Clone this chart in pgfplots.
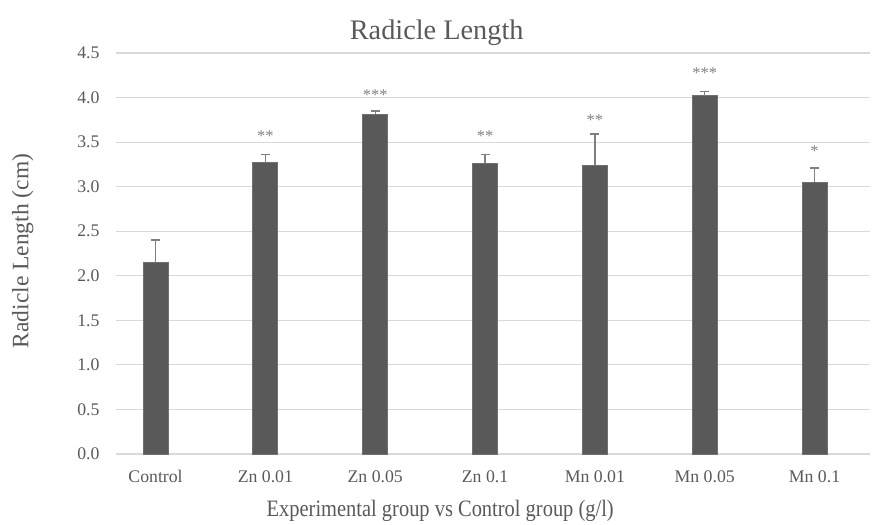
\documentclass[border=0pt]{standalone}
\usepackage{fontspec}
\setmainfont{Liberation Serif}
\newfontfamily\xlabfont[FakeStretch=0.87]{Liberation Serif}
\usepackage{pgfplots}
\usepackage{pgfplotstable}
\pgfplotsset{compat=1.18}
\definecolor{barc}{HTML}{595959}
\definecolor{errc}{HTML}{7F7F7F}
\definecolor{gridc}{HTML}{D9D9D9}
\definecolor{txtc}{HTML}{595959}

\pgfplotstableread{
x y err
0 2.15 0.25
1 3.27 0.09
2 3.81 0.04
3 3.26 0.10
4 3.24 0.35
5 4.02 0.05
6 3.05 0.16
}\bars

\pgfplotstableread{
x y label
1 3.59 {**}
2 4.05 {***}
3 3.59 {**}
4 3.78 {**}
5 4.30 {***}
6 3.43 {*}
}\stars

\begin{document}
\begin{tikzpicture}
\begin{axis}[
  at={(116bp,71bp)}, anchor=south west,
  scale only axis,
  width=754bp, height=401bp,
  xmin=-0.36, xmax=6.505,
  ymin=0, ymax=4.5,
  ytick={0,0.5,...,4.5},
  xtick=data,
  xticklabels={Control, Zn 0.01, Zn 0.05, Zn 0.1, Mn 0.01, Mn 0.05, Mn 0.1},
  axis line style={draw=none},
  major tick length=0pt,
  ymajorgrids,
  grid style={draw=gridc, line width=1.2bp},
  /pgf/number format/.cd, fixed, fixed zerofill, precision=1, assume math mode=true,
  /pgfplots/.cd,
  yticklabel style={font=\fontsize{17.8}{20}\selectfont, text=txtc, xshift=-13bp},
  xticklabel style={font=\fontsize{17.8}{20}\selectfont, text=txtc, text height=12bp, text depth=0bp, yshift=-12.5bp},
  every axis title shift=0pt,
  xlabel={Experimental group vs Control group (g/l)},
  ylabel={Radicle Length (cm)},
  title={Radicle Length},
  xlabel style={font=\xlabfont\fontsize{23.6}{26}\selectfont, text=txtc, at={(axis description cs:0.430,-0.143)}, anchor=center},
  ylabel style={font=\fontsize{23.6}{26}\selectfont, text=txtc, at={(axis description cs:-0.1236,0.506)}, anchor=center, rotate=0},
  title style={font=\fontsize{28.4}{31}\selectfont, text=txtc, at={(axis description cs:0.4253,1.050)}, anchor=center},
  clip=false,
]
\addplot[ybar, bar width=25bp, fill=barc, draw=errc!60!barc, line width=0.8bp,
  error bars/.cd, y dir=plus, y explicit,
  error bar style={draw=errc, line width=1.4bp},
  error mark options={draw=errc, line width=1.4bp, mark size=4.5bp, rotate=90}]
  table[x=x, y=y, y error=err] {\bars};
\addplot[only marks, mark=none, nodes near coords, point meta=explicit symbolic,
  every node near coord/.style={anchor=center, yshift=-2.5bp, font=\fontsize{16.5}{18}\selectfont, text=errc}]
  table[x=x, y=y, meta=label] {\stars};
\end{axis}
\pgfresetboundingbox
\path[use as bounding box] (0,0) rectangle (872bp,525bp);
\end{tikzpicture}
\end{document}
